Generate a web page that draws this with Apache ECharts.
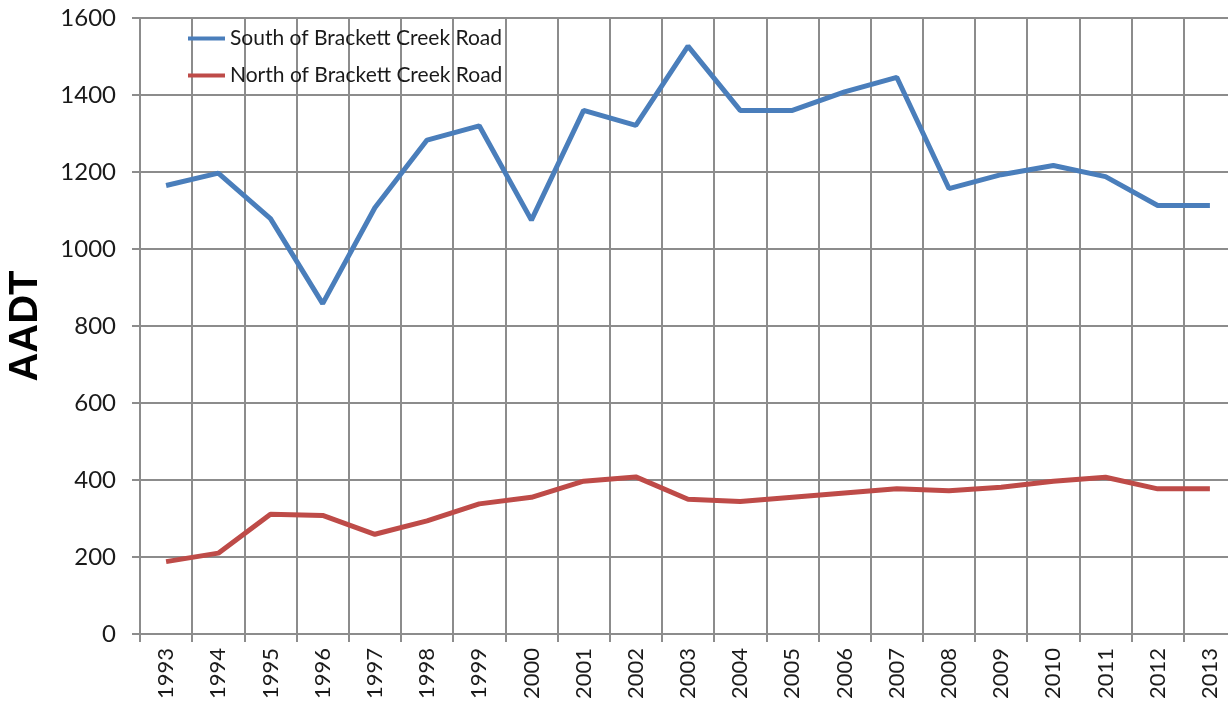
<!DOCTYPE html>
<html>
<head>
<meta charset="utf-8">
<script src="https://cdn.jsdelivr.net/npm/echarts@6/dist/echarts.min.js"></script>
<style>html,body{margin:0;padding:0;background:#fff}#c{width:1228px;height:704px}</style>
</head>
<body>
<div id="c"></div>
<script>
const years = ['1993','1994','1995','1996','1997','1998','1999','2000','2001','2002','2003','2004','2005','2006','2007','2008','2009','2010','2011','2012','2013'];
const southName = 'South of Brackett Creek Road';
const northName = 'North of Brackett Creek Road';
const south = [1165,1197,1079,858,1107,1283,1320,1075,1360,1321,1527,1360,1360,1408,1446,1157,1193,1217,1188,1113,1113];
const north = [188,210,311,308,259,294,338,355,397,408,350,344,355,366,377,372,381,397,407,377,377];
const yTicks = {min:0, max:1600, interval:200};

const chart = echarts.init(document.getElementById('c'), null, {renderer:'canvas'});
const grey = '#8c8c8c';
const font = 'Lato, "Open Sans", sans-serif';
chart.setOption({
  animation:false,
  backgroundColor:'#fff',
  grid:{left:140, top:18, width:1096, bottom:70, containLabel:false, outerBoundsMode:'none'},
  legend:{
    orient:'vertical', left:188, top:28, padding:0, itemWidth:37, itemHeight:4, itemGap:16,
    icon:'rect',
    textStyle:{fontFamily:font, fontSize:21, color:'#1a1a1a'},
    data:[southName, northName]
  },
  xAxis:{
    type:'category', data:years, boundaryGap:true,
    axisLine:{lineStyle:{color:grey, width:2}},
    axisTick:{show:true, length:8, inside:false, lineStyle:{color:grey, width:2}},
    splitLine:{show:true, lineStyle:{color:grey, width:2}},
    axisLabel:{rotate:90, margin:14, fontFamily:font, fontSize:22, color:'#1a1a1a'}
  },
  yAxis:{
    type:'value', min:yTicks.min, max:yTicks.max, interval:yTicks.interval,
    name:'AADT', nameLocation:'middle', nameGap:94, nameRotate:90,
    nameTextStyle:{fontFamily:'"Liberation Sans", Arial, sans-serif', fontWeight:'bold', fontSize:40, color:'#000'},
    axisLine:{show:true, lineStyle:{color:grey, width:2}},
    axisTick:{show:true, length:8, lineStyle:{color:grey, width:2}},
    splitLine:{show:true, lineStyle:{color:grey, width:2}},
    axisLabel:{margin:24, fontFamily:font, fontSize:24, color:'#1a1a1a', formatter: v => String(v)}
  },
  series:[
    {name:southName, type:'line', data:south, symbol:'none', lineStyle:{color:'#4A7EBB', width:5}, itemStyle:{color:'#4A7EBB'}},
    {name:northName, type:'line', data:north, symbol:'none', lineStyle:{color:'#BE4B48', width:5}, itemStyle:{color:'#BE4B48'}}
  ]
});
</script>
</body>
</html>
